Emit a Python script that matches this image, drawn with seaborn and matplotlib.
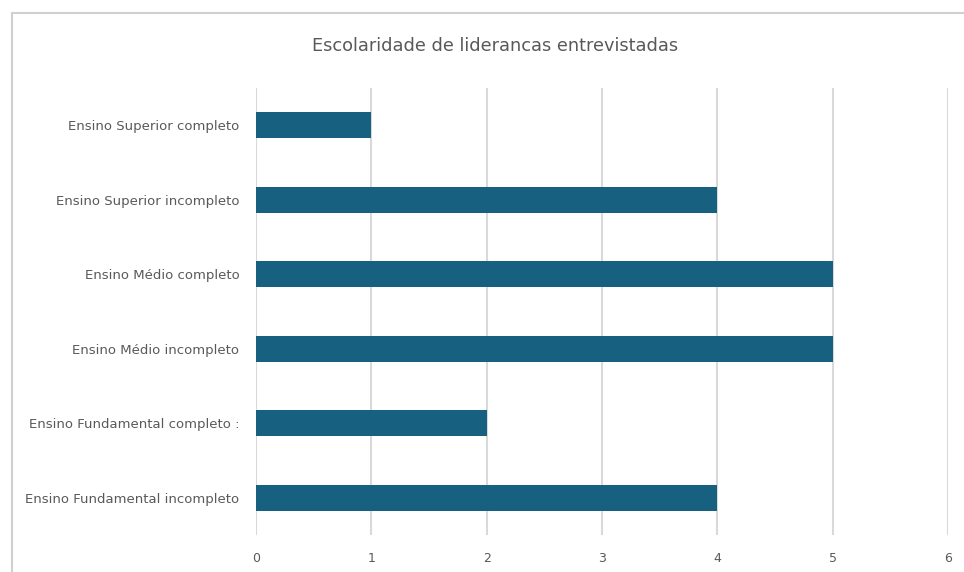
import pandas as pd
import seaborn as sns
import matplotlib.pyplot as plt
from matplotlib.lines import Line2D

# dados
categorias = ["Ensino Superior completo", "Ensino Superior incompleto",
              "Ensino Médio completo", "Ensino Médio incompleto",
              "Ensino Fundamental completo :", "Ensino Fundamental incompleto"]
valores = [1, 4, 5, 5, 2, 4]
ticks_x = [0, 1, 2, 3, 4, 5, 6]

df = pd.DataFrame({"categoria": categorias, "valor": valores})

sns.set_style("white")
plt.rcParams['font.family'] = ['DejaVu Sans']

fig = plt.figure(figsize=(9.64, 5.72), dpi=100)
ax = fig.add_axes([0.2656, 0.0647, 0.9834 - 0.2656, 0.846 - 0.0647])

sns.barplot(data=df, x="valor", y="categoria", orient="h", order=categorias,
            color="#17607F", saturation=1, width=0.35, linewidth=0, ax=ax)

ax.set_xlim(0, 6)
ax.set_ylim(5.5, -0.5)
ax.set_xticks(ticks_x)
ax.xaxis.grid(True, color="#d9d9d9", linewidth=1.5)
ax.set_axisbelow(True)
for s in ax.spines.values():
    s.set_visible(False)
ax.set_xlabel("")
ax.set_ylabel("")
ax.tick_params(axis="x", length=0, pad=12, labelsize=9, labelcolor="#595959")
ax.tick_params(axis="y", length=0, pad=12, labelsize=9.5, labelcolor="#595959")

fig.text(0.5135, 0.92, "Escolaridade de liderancas entrevistadas",
         ha="center", va="center", fontsize=12.8, color="#595959")

# moldura
fig.add_artist(Line2D([12 / 964, 12 / 964], [0, 1 - 13 / 572],
                      transform=fig.transFigure, color="#d0d0d0", lw=1.5))
fig.add_artist(Line2D([12 / 964, 1], [1 - 13 / 572, 1 - 13 / 572],
                      transform=fig.transFigure, color="#d0d0d0", lw=1.5))

fig.savefig("out.png", dpi=100)
